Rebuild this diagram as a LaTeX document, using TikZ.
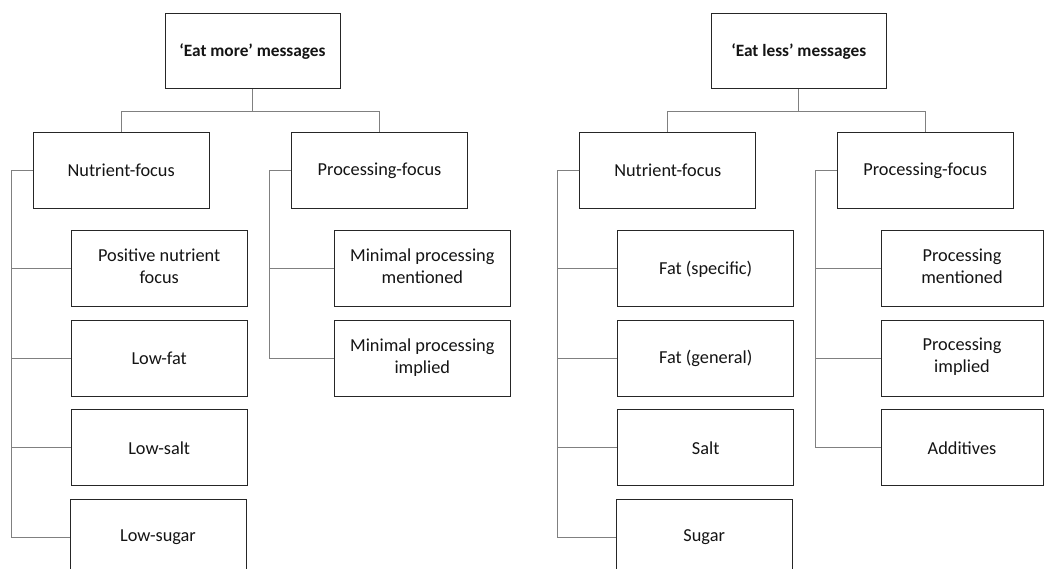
\documentclass[tikz,border=0pt]{standalone}
\usepackage{fontspec}
\setmainfont{Carlito}
\newcommand\boxstrut[2]{\vrule width0pt height#1 depth#2\relax}
\begin{document}
\begin{tikzpicture}[x=1pt,y=-1pt,
  box/.style={draw=black!85, line width=1pt, fill=white, minimum width=176pt, minimum height=76pt,
    align=center, inner sep=0pt, font=\fontsize{18.3}{22}\selectfont, text=black!92,
    execute at begin node=\boxstrut{13pt}{0pt}, execute at end node=\boxstrut{13pt}{0pt}},
  twobox/.style={draw=black!85, line width=1pt, fill=white, minimum width=176pt, minimum height=76pt,
    align=center, inner sep=0pt, font=\fontsize{18.3}{22}\selectfont, text=black!92,
    execute at begin node=\boxstrut{13pt}{0pt}, execute at end node=\boxstrut{0pt}{5pt}},
  rootbox/.style={box, minimum width=175pt, minimum height=75pt, font=\bfseries\fontsize{17.3}{22}\selectfont},
  narrowbox/.style={box, minimum width=162pt},
  narrowtwo/.style={twobox, minimum width=162pt},
  conn/.style={draw=black!50, line width=1pt}]
\useasboundingbox (0,0) rectangle (1044,569);
% left tree
\node[rootbox] (rootL) at (252.5,51.5) {`Eat more' messages};
\node[box] (nfL) at (121.2,170.2) {Nutrient-focus};
\node[box] (pfL) at (379.5,170.2) {Processing-focus};
\node[twobox] (posL) at (159.2,268.8) {Positive nutrient\\focus};
\node[box] (lfatL) at (159.2,358.2) {Low-fat};
\node[box] (lsaltL) at (159.2,447.7) {Low-salt};
\node[box] (lsugL) at (158,537) {Low-sugar};
\node[twobox] (mmenL) at (422.3,268.8) {Minimal processing\\mentioned};
\node[twobox] (mimpL) at (422.3,358.2) {Minimal processing\\implied};
\draw[conn] (rootL.south) -- ++(0,21.7) -| (nfL.north);
\draw[conn] (rootL.south) -- ++(0,21.7) -| (pfL.north);
\foreach \c in {posL,lfatL,lsaltL,lsugL}
  \draw[conn] (nfL.west) -- ++(-21.6,0) |- (\c.west);
\foreach \c in {mmenL,mimpL}
  \draw[conn] (pfL.west) -- ++(-22,0) |- (\c.west);
% right tree
\node[rootbox] (rootR) at (798.8,51.5) {`Eat less' messages};
\node[box] (nfR) at (667.8,170.2) {Nutrient-focus};
\node[box] (pfR) at (925.2,170.2) {Processing-focus};
\node[box] (fspR) at (705.7,268.8) {Fat (specific)};
\node[box] (fgenR) at (705.7,358.2) {Fat (general)};
\node[box] (saltR) at (705.7,447.7) {Salt};
\node[box] (sugR) at (704.2,537) {Sugar};
\node[narrowtwo] (pmenR) at (962,268.8) {Processing\\mentioned};
\node[narrowtwo] (pimpR) at (962,358.2) {Processing\\implied};
\node[narrowbox] (addR) at (962,447.7) {Additives};
\draw[conn] (rootR.south) -- ++(0,21.7) -| (nfR.north);
\draw[conn] (rootR.south) -- ++(0,21.7) -| (pfR.north);
\foreach \c in {fspR,fgenR,saltR,sugR}
  \draw[conn] (nfR.west) -- ++(-21.7,0) |- (\c.west);
\foreach \c in {pmenR,pimpR,addR}
  \draw[conn] (pfR.west) -- ++(-21.6,0) |- (\c.west);
\end{tikzpicture}
\end{document}
